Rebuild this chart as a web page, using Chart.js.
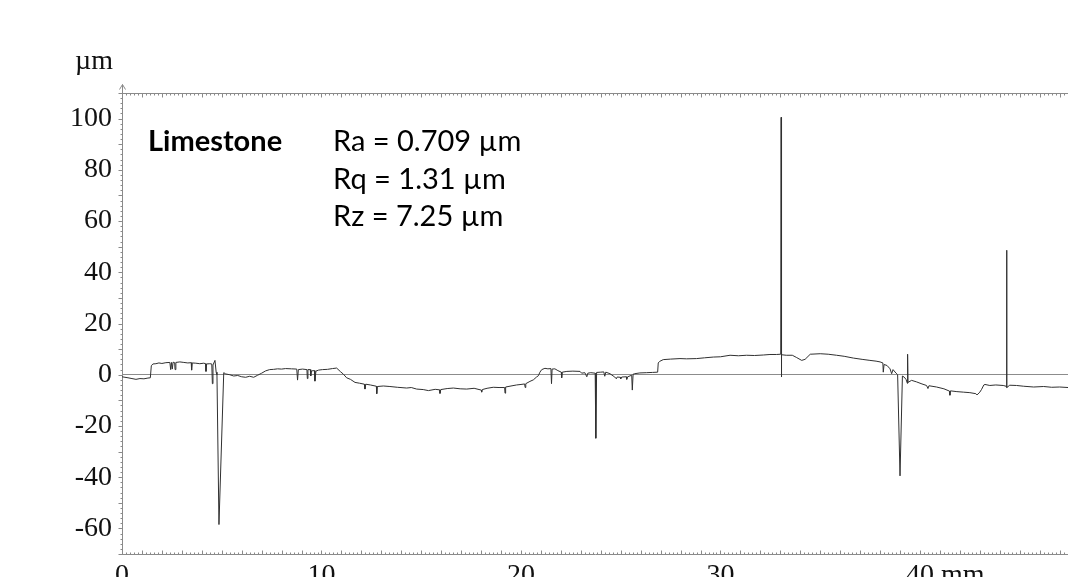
<!DOCTYPE html>
<html>
<head>
<meta charset="utf-8">
<title>Limestone surface profile</title>
<script src="https://cdn.jsdelivr.net/npm/chart.js@4/dist/chart.umd.min.js"></script>
<style>
    html, body { margin: 0; padding: 0; background: #fff; overflow: hidden; }
    #wrap { position: relative; width: 1068px; height: 600px; }
</style>
</head>
<body>
<div id="wrap"><canvas id="profileChart"></canvas></div>
<script>
// Profile: position along the sample (mm) and height (µm)
const profileX = [
    0.00, 0.15, 0.30, 0.50, 0.70, 0.90, 1.10, 1.30, 1.42, 1.47, 1.55, 1.70, 1.85, 2.00, 2.20, 2.40,
    2.44, 2.48, 2.52, 2.56, 2.64, 2.66, 2.70, 2.90, 3.10, 3.30, 3.47, 3.49, 3.52, 3.70, 3.90, 4.10,
    4.19, 4.21, 4.24, 4.40, 4.50, 4.53, 4.56, 4.66, 4.72, 4.76, 4.86, 5.10, 5.20, 5.40, 5.60, 5.80,
    6.00, 6.20, 6.40, 6.60, 6.80, 7.00, 7.20, 7.40, 7.60, 7.80, 8.00, 8.20, 8.50, 8.76, 8.80, 8.84,
    9.05, 9.27, 9.29, 9.32, 9.44, 9.46, 9.50, 9.65, 9.67, 9.72, 9.85, 10.05, 10.30, 10.55, 10.76, 10.95,
    11.10, 11.26, 11.45, 11.68, 11.90, 12.15, 12.18, 12.22, 12.45, 12.75, 12.77, 12.80, 13.10, 13.43, 13.80, 14.27,
    14.50, 14.77, 15.10, 15.36, 15.70, 15.92, 15.94, 15.98, 16.30, 16.61, 16.95, 17.28, 17.65, 18.01, 18.03, 18.06,
    18.30, 18.61, 18.90, 19.18, 19.20, 19.23, 19.50, 19.78, 20.00, 20.18, 20.21, 20.24, 20.45, 20.62, 20.78, 20.87,
    20.95, 21.04, 21.20, 21.35, 21.50, 21.53, 21.56, 21.70, 21.85, 22.02, 22.04, 22.07, 22.30, 22.60, 22.96, 23.04,
    23.20, 23.30, 23.35, 23.50, 23.72, 23.75, 23.79, 24.00, 24.15, 24.20, 24.25, 24.46, 24.70, 24.78, 24.82, 24.98,
    25.00, 25.05, 25.28, 25.30, 25.35, 25.55, 25.58, 25.62, 25.70, 25.96, 26.30, 26.60, 26.85, 26.88, 26.95, 27.13,
    27.50, 27.97, 28.30, 28.80, 29.20, 29.64, 30.00, 30.48, 30.90, 31.31, 31.70, 32.15, 32.48, 32.80, 33.02, 33.04,
    33.05, 33.07, 33.30, 33.60, 33.82, 34.07, 34.24, 34.50, 35.00, 35.40, 35.82, 36.20, 36.66, 37.10, 37.49, 37.80,
    38.00, 38.14, 38.16, 38.20, 38.35, 38.50, 38.58, 38.65, 38.80, 38.88, 39.00, 39.12, 39.20, 39.30, 39.37, 39.38,
    39.40, 39.58, 39.83, 40.10, 40.33, 40.40, 40.45, 40.83, 41.20, 41.48, 41.50, 41.53, 41.85, 42.17, 42.50, 42.80,
    42.86, 43.00, 43.09, 43.20, 43.26, 43.50, 43.80, 44.17, 44.32, 44.34, 44.36, 44.50, 44.84, 45.20, 45.70, 46.20,
    46.60, 47.00, 47.42
];
const profileY = [
    -0.8, -1.0, -1.2, -1.5, -1.8, -1.5, -1.6, -1.3, -1.2, 3.5, 4.2, 4.3, 4.6, 4.4, 4.7, 4.8,
    2.0, 4.8, 2.2, 4.9, 4.7, 2.0, 4.8, 5.0, 4.8, 4.6, 4.7, 1.8, 4.6, 4.5, 4.3, 4.5,
    4.3, 1.3, 4.2, 4.3, 4.2, -3.5, 3.8, 5.6, 1.0, 0.0, -58.5, 0.8, 0.3, 0.0, -0.5, -0.3,
    -0.8, -1.0, -0.6, -1.0, -0.2, 0.6, 1.5, 2.0, 2.1, 2.3, 2.2, 2.4, 2.3, 2.2, -2.1, 2.0,
    2.2, 2.0, -1.5, 2.0, 2.0, -0.5, 1.5, 1.6, -2.5, 1.4, 1.8, 2.0, 2.1, 2.4, 2.6, 1.2,
    0.2, -1.2, -1.8, -3.0, -3.3, -3.7, -5.6, -3.7, -4.0, -4.5, -7.4, -4.6, -4.4, -4.6, -4.9, -5.2,
    -5.0, -5.6, -5.8, -6.2, -5.7, -5.9, -7.3, -5.8, -5.4, -5.2, -5.5, -5.6, -5.3, -6.0, -6.8, -5.8,
    -5.3, -4.9, -5.0, -5.0, -7.2, -4.8, -4.4, -4.0, -3.8, -3.6, -5.0, -3.5, -2.6, -2.0, -0.9, -0.4,
    1.0, 2.0, 2.5, 2.3, 2.4, -3.5, 2.2, 2.3, 1.6, 1.0, -1.2, 1.0, 1.3, 1.4, 1.3, 0.6,
    0.8, -0.8, 0.6, 0.8, 0.6, -24.8, 0.9, 1.0, 1.1, -0.6, 1.0, 0.4, -0.9, -1.6, -0.9, -1.0,
    -1.6, -0.9, -0.8, -1.8, -0.8, -0.2, -6.0, 0.2, 0.4, 0.7, 0.8, 0.9, 1.0, 4.6, 5.2, 5.9,
    6.1, 6.3, 6.2, 6.3, 6.6, 6.9, 7.0, 7.6, 7.4, 7.6, 7.5, 7.7, 7.9, 7.9, 8.0, 100.5,
    -0.9, 7.8, 7.6, 7.6, 6.7, 5.6, 6.0, 8.0, 8.2, 8.0, 7.6, 7.2, 6.5, 6.0, 5.6, 5.3,
    5.0, 4.6, 1.0, 4.0, 3.6, 2.3, 0.4, 2.0, 0.6, 0.0, -39.5, -0.5, -0.9, -1.8, -3.4, 8.0,
    -3.0, -2.2, -2.8, -3.6, -4.2, -5.4, -4.3, -4.8, -5.5, -6.4, -8.0, -6.3, -6.6, -6.8, -7.0, -7.4,
    -7.9, -6.8, -5.7, -4.0, -3.8, -4.2, -4.0, -4.2, -4.5, 48.6, -5.0, -4.1, -4.2, -4.5, -4.8, -4.6,
    -4.9, -4.8, -5.0
];

// Tick labels and texts
const xTickValues = [0, 10, 20, 30, 40];
const yTickValues = [-60, -40, -20, 0, 20, 40, 60, 80, 100];
const xUnit = 'mm';
const yUnit = 'µm';
const sampleName = 'Limestone';
const roughnessLines = ['Ra = 0.709 µm', 'Rq = 1.31 µm', 'Rz = 7.25 µm'];

const serif = '"Liberation Serif", "Times New Roman", serif';
const tickSize = 28;
const axisGray = '#8a8a8a';

document.addEventListener('DOMContentLoaded', function() {
    initProfileChart();
});

// Axis frame, fine ticks, unit labels and the roughness text
const profileDecor = {
    id: 'profileDecor',
    afterDraw(chart) {
        const ctx = chart.ctx;
        const a = chart.chartArea;
        const x = chart.scales.x;
        const y = chart.scales.y;
        const left = Math.round(a.left) + 0.5;
        const top = Math.round(a.top) + 0.5;
        const bottom = Math.round(a.bottom) + 0.5;

        ctx.save();
        ctx.strokeStyle = axisGray;
        ctx.lineWidth = 1;

        // top frame line
        ctx.beginPath();
        ctx.moveTo(left, top);
        ctx.lineTo(a.right, top);
        ctx.stroke();

        // x ticks: every 0.2 mm small, every 1 mm longer (bottom and top)
        ctx.beginPath();
        for (let i = 0; i * 0.2 <= x.max; i++) {
            const px = Math.round(x.getPixelForValue(i * 0.2)) + 0.5;
            const len = i % 5 === 0 ? 4 : 2;
            ctx.moveTo(px, bottom);
            ctx.lineTo(px, bottom - len);
            ctx.moveTo(px, top);
            ctx.lineTo(px, top + len);
        }
        // y ticks: every 2 µm small, every 10 µm longer, outward
        for (let v = -70; v <= y.max; v += 2) {
            if (v < y.min) continue;
            const py = Math.round(y.getPixelForValue(v)) + 0.5;
            const len = v % 10 === 0 ? 4 : 2;
            ctx.moveTo(left, py);
            ctx.lineTo(left - len, py);
        }
        ctx.stroke();

        // arrow on the y axis
        ctx.beginPath();
        ctx.moveTo(left, top);
        ctx.lineTo(left, top - 9);
        ctx.moveTo(left - 3, top - 4);
        ctx.lineTo(left, top - 9);
        ctx.lineTo(left + 3, top - 4);
        ctx.stroke();

        // unit labels
        ctx.fillStyle = '#111';
        ctx.font = tickSize + 'px ' + serif;
        ctx.textBaseline = 'middle';
        ctx.textAlign = 'right';
        ctx.fillText(yUnit, 113, 62);
        const px40 = x.getPixelForValue(xTickValues[xTickValues.length - 1]);
        const w40 = ctx.measureText(String(xTickValues[xTickValues.length - 1])).width;
        ctx.textAlign = 'left';
        ctx.fillText(' ' + xUnit, px40 + w40 / 2, a.bottom + 5 + tickSize * 0.6);

        // sample name and roughness values
        ctx.fillStyle = '#000';
        ctx.font = 'bold 29px Lato, "Open Sans", sans-serif';
        ctx.fillText(sampleName, 148, 142);
        ctx.font = '29px Lato, "Open Sans", sans-serif';
        roughnessLines.forEach(function(line, i) {
            ctx.fillText(line, 333, 142 + i * 37.5);
        });
        ctx.restore();
    }
};

function initProfileChart() {
    const ctx = document.getElementById('profileChart').getContext('2d');

    const points = profileX.map(function(v, i) {
        return { x: v, y: profileY[i] };
    });

    new Chart(ctx, {
        type: 'scatter',
        data: {
            datasets: [{
                data: points,
                showLine: true,
                borderColor: '#303030',
                borderWidth: 1,
                pointRadius: 0,
                fill: false,
                tension: 0
            }]
        },
        options: {
            responsive: true,
            maintainAspectRatio: false,
            animation: false,
            layout: {
                padding: { top: 93, left: 0, right: 0, bottom: 0 }
            },
            plugins: {
                legend: { display: false },
                tooltip: { enabled: false }
            },
            scales: {
                x: {
                    type: 'linear',
                    min: 0,
                    max: 47.42,
                    afterBuildTicks: function(scale) {
                        scale.ticks = xTickValues.map(function(v) { return { value: v }; });
                    },
                    afterFit: function(scale) {
                        scale.height = 46;
                        scale.paddingLeft = 0;
                        scale.paddingRight = 0;
                    },
                    grid: { display: false, drawTicks: false },
                    border: { display: true, color: axisGray, width: 1 },
                    ticks: {
                        padding: 5,
                        maxRotation: 0,
                        color: '#111',
                        font: { family: serif, size: tickSize }
                    }
                },
                y: {
                    min: -70,
                    max: 110,
                    afterBuildTicks: function(scale) {
                        scale.ticks = yTickValues.map(function(v) { return { value: v }; });
                    },
                    afterFit: function(scale) {
                        scale.width = 122;
                        scale.paddingTop = 0;
                        scale.paddingBottom = 0;
                    },
                    grid: {
                        drawTicks: false,
                        color: function(c) {
                            return c.tick && c.tick.value === 0 ? '#8c8c8c' : 'rgba(0,0,0,0)';
                        }
                    },
                    border: { display: true, color: axisGray, width: 1 },
                    ticks: {
                        padding: 10,
                        color: '#111',
                        font: { family: serif, size: tickSize }
                    }
                }
            }
        },
        plugins: [profileDecor]
    });
}
</script>
</body>
</html>
